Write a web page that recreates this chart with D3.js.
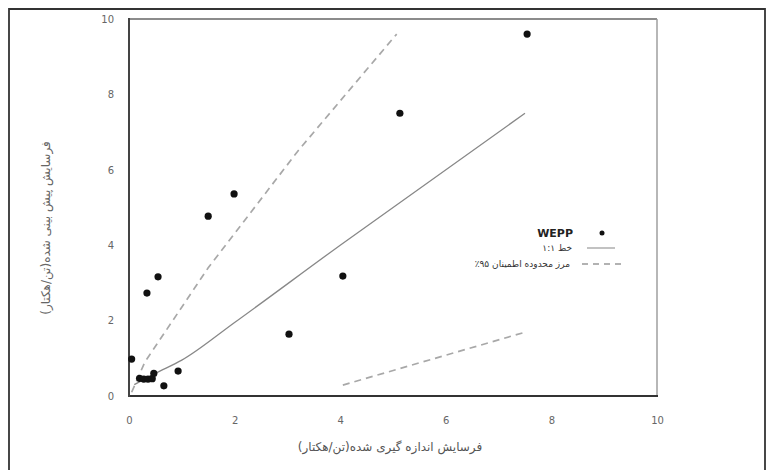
<!DOCTYPE html>
<html><head><meta charset="utf-8">
<script src="https://cdn.jsdelivr.net/npm/d3@7"></script>
<style>body{margin:0;background:#fff}svg{display:block}</style>
</head><body><svg id="c" width="766" height="470"></svg>
<script>
const measuredX = [7.54, 5.13, 1.5, 1.99, 0.55, 0.34, 4.05, 3.03, 0.05, 0.93, 0.66, 0.2, 0.28, 0.36, 0.44, 0.47];
const predictedY = [9.6, 7.5, 4.77, 5.36, 3.16, 2.73, 3.18, 1.64, 0.98, 0.66, 0.27, 0.47, 0.45, 0.45, 0.46, 0.6];
const lineX = [0.1, 0.5, 1.0, 2.0, 4.0, 7.5];
const lineY = [0.3, 0.6, 0.95, 1.95, 4.0, 7.5];
const upperX = [0.05, 0.3, 1.5, 3.2, 5.07];
const upperY = [0.1, 0.9, 3.4, 6.5, 9.6];
const lowerX = [4.05, 7.52];
const lowerY = [0.29, 1.7];
const xTicks = [0, 2, 4, 6, 8, 10];
const yTicks = [0, 2, 4, 6, 8, 10];
const xTitle = "فرسایش اندازه گیری شده(تن/هکتار)";
const yTitle = "فرسایش پیش بینی شده(تن/هکتار)";
const legendLabels = ["WEPP", "خط ۱:۱", "مرز محدوده اطمینان ۹۵٪"];

const svg = d3.select("#c");
const font = "'DejaVu Sans', sans-serif";
const x = d3.scaleLinear().domain([0, 10]).range([129, 657]);
const y = d3.scaleLinear().domain([0, 10]).range([396, 19]);

// outer frame
svg.append("path").attr("d", "M9,470 V9 H765 V470").attr("fill", "none").attr("stroke", "#333").attr("stroke-width", 1.8);

// plot frame
svg.append("line").attr("x1", x(0)).attr("x2", x(10)).attr("y1", y(10)).attr("y2", y(10)).attr("stroke", "#666").attr("stroke-width", 1.6);
svg.append("line").attr("x1", x(10)).attr("x2", x(10)).attr("y1", y(10)).attr("y2", y(0)).attr("stroke", "#999").attr("stroke-width", 1.4);
svg.append("line").attr("x1", x(0)).attr("x2", x(10)+1).attr("y1", y(0)).attr("y2", y(0)).attr("stroke", "#333").attr("stroke-width", 2.2);
svg.append("line").attr("x1", x(0)).attr("x2", x(0)).attr("y1", y(10)-1).attr("y2", y(0)+1).attr("stroke", "#444").attr("stroke-width", 2);

// axes (labels only)
const gx = svg.append("g").attr("transform", `translate(0,${y(0)+18})`)
  .call(d3.axisBottom(x).tickValues(xTicks).tickSize(0).tickFormat(d3.format("d")));
gx.select(".domain").remove();
gx.selectAll("text").attr("font-family", font).attr("font-size", 10).attr("fill", "#666");
const gy = svg.append("g").attr("transform", `translate(${x(0)-12},0)`)
  .call(d3.axisLeft(y).tickValues(yTicks).tickSize(0).tickFormat(d3.format("d")));
gy.select(".domain").remove();
gy.selectAll("text").attr("font-family", font).attr("font-size", 10).attr("fill", "#666");

// titles
svg.append("text").attr("x", 390).attr("y", 451).attr("text-anchor", "middle")
  .attr("font-family", font).attr("font-size", 12).attr("fill", "#555").attr("direction", "rtl").attr("unicode-bidi", "embed")
  .text(xTitle);
svg.append("text").attr("transform", "translate(50,228) rotate(-90)").attr("text-anchor", "middle")
  .attr("font-family", font).attr("font-size", 12).attr("fill", "#666").attr("direction", "rtl").attr("unicode-bidi", "embed")
  .text(yTitle);

// lines
const gen = d3.line().x(d => x(d[0])).y(d => y(d[1]));
const genSmooth = d3.line().x(d => x(d[0])).y(d => y(d[1])).curve(d3.curveMonotoneX);
svg.append("path").datum(d3.zip(lineX, lineY)).attr("d", genSmooth)
  .attr("fill", "none").attr("stroke", "#888").attr("stroke-width", 1.3);
svg.append("path").datum(d3.zip(upperX, upperY)).attr("d", gen)
  .attr("fill", "none").attr("stroke", "#a8a8a8").attr("stroke-width", 1.7).attr("stroke-dasharray", "7,5");
svg.append("path").datum(d3.zip(lowerX, lowerY)).attr("d", gen)
  .attr("fill", "none").attr("stroke", "#a8a8a8").attr("stroke-width", 1.7).attr("stroke-dasharray", "7,5");

// points
svg.append("g").selectAll("circle").data(d3.zip(measuredX, predictedY)).join("circle")
  .attr("cx", d => x(d[0])).attr("cy", d => y(d[1])).attr("r", 3.6).attr("fill", "#111");

// legend
const lg = svg.append("g").attr("font-family", font);
lg.append("circle").attr("cx", 602).attr("cy", 233).attr("r", 2.5).attr("fill", "#111");
lg.append("text").attr("x", 573).attr("y", 237).attr("text-anchor", "end").attr("font-size", 11).attr("font-weight", "bold").attr("fill", "#222").text(legendLabels[0]);
lg.append("line").attr("x1", 587).attr("x2", 615).attr("y1", 248).attr("y2", 248).attr("stroke", "#999").attr("stroke-width", 1.2);
lg.append("text").attr("x", 572).attr("y", 251).attr("text-anchor", "start").attr("font-size", 9).attr("fill", "#333").attr("direction", "rtl").attr("unicode-bidi", "embed").text(legendLabels[1]);
lg.append("line").attr("x1", 582).attr("x2", 622).attr("y1", 264).attr("y2", 264).attr("stroke", "#999").attr("stroke-width", 1.4).attr("stroke-dasharray", "6,5");
lg.append("text").attr("x", 570).attr("y", 267).attr("text-anchor", "start").attr("font-size", 9).attr("fill", "#333").attr("direction", "rtl").attr("unicode-bidi", "embed").text(legendLabels[2]);
</script></body></html>
